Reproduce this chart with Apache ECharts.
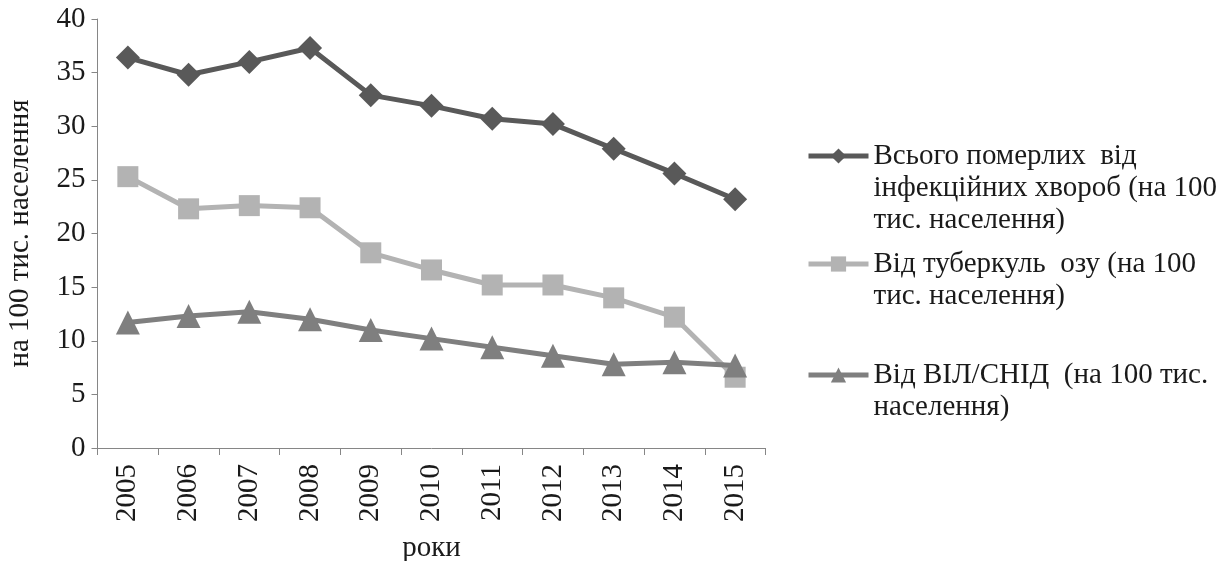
<!DOCTYPE html>
<html>
<head>
<meta charset="utf-8">
<script src="https://cdn.jsdelivr.net/npm/echarts@6/dist/echarts.min.js"></script>
<style>
  html, body { margin: 0; padding: 0; background: #ffffff; }
  #chart { width: 1232px; height: 561px; }
</style>
</head>
<body>
<div id="chart"></div>
<script>
// Роки спостереження
const years = ['2005', '2006', '2007', '2008', '2009', '2010', '2011', '2012', '2013', '2014', '2015'];

// Смертність на 100 тис. населення
const totalInfectious = [36.4, 34.8, 36.0, 37.3, 32.9, 31.9, 30.7, 30.2, 27.9, 25.6, 23.2];
const tuberculosis    = [25.3, 22.3, 22.6, 22.4, 18.2, 16.6, 15.2, 15.2, 14.0, 12.2, 6.6];
const hivAids         = [11.7, 12.3, 12.7, 12.0, 11.0, 10.2, 9.4, 8.6, 7.8, 8.0, 7.7];

const yTicks = { min: 0, max: 40, step: 5 };

const seriesNames = [
  'Всього померлих  від інфекційних хвороб (на 100 тис. населення)',
  'Від туберкуль  озу (на 100 тис. населення)',
  'Від ВІЛ/СНІД  (на 100 тис. населення)'
];
const legendLines = [
  ['Всього померлих  від', 'інфекційних хвороб (на 100', 'тис. населення)'],
  ['Від туберкуль  озу (на 100', 'тис. населення)'],
  ['Від ВІЛ/СНІД  (на 100 тис.', 'населення)']
];

const FONT = '"Liberation Serif", "Times New Roman", serif';
const FONT_SIZE = 29;
const LINE_H = 32;
const colors = ['#595959', '#b3b3b3', '#7f7f7f'];
const symbols = ['diamond', 'rect', 'triangle'];
const symbolSizes = [24, 21, 24];
const legendTops = [76, 216, 327];

function makeLegend(i) {
  const lines = legendLines[i];
  // blank lines on top keep the icon level with the first text line
  const pad = new Array(lines.length - 1).fill('');
  return {
    data: [seriesNames[i]],
    left: 806,
    top: legendTops[i],
    orient: 'vertical',
    padding: 0,
    itemWidth: 60,
    itemHeight: 19,
    selectedMode: false,
    lineStyle: { width: 5 },
    formatter: () => pad.concat(lines).join('\n'),
    textStyle: {
      fontFamily: FONT,
      fontSize: FONT_SIZE,
      color: '#1a1a1a',
      lineHeight: LINE_H
    }
  };
}

const chart = echarts.init(document.getElementById('chart'), null, { renderer: 'canvas' });

chart.setOption({
  backgroundColor: '#ffffff',
  animation: false,
  textStyle: { fontFamily: FONT },
  grid: {
    left: 97.5, top: 19, width: 668, height: 429,
    containLabel: false,
    outerBoundsMode: 'none'
  },
  legend: [0, 1, 2].map(makeLegend),
  xAxis: {
    type: 'category',
    data: years,
    boundaryGap: true,
    name: 'роки',
    nameLocation: 'middle',
    nameGap: 86,
    nameTextStyle: { fontFamily: FONT, fontSize: FONT_SIZE, color: '#1a1a1a' },
    axisLine: { show: true, lineStyle: { color: '#868686', width: 1 } },
    axisTick: { show: true, length: 7, lineStyle: { color: '#868686' } },
    axisLabel: {
      rotate: 90,
      margin: 16,
      fontFamily: FONT,
      fontSize: FONT_SIZE,
      color: '#1a1a1a',
      interval: 0
    }
  },
  yAxis: {
    type: 'value',
    min: yTicks.min,
    max: yTicks.max,
    interval: yTicks.step,
    name: 'на 100 тис. населення',
    nameLocation: 'middle',
    nameGap: 63,
    nameRotate: 90,
    nameTextStyle: { fontFamily: FONT, fontSize: FONT_SIZE, color: '#1a1a1a' },
    splitLine: { show: false },
    axisLine: { show: true, lineStyle: { color: '#868686', width: 1 } },
    axisTick: { show: true, length: 6, lineStyle: { color: '#868686' } },
    axisLabel: {
      margin: 12,
      fontFamily: FONT,
      fontSize: FONT_SIZE,
      color: '#1a1a1a'
    }
  },
  series: [totalInfectious, tuberculosis, hivAids].map((values, i) => ({
    name: seriesNames[i],
    type: 'line',
    data: values,
    symbol: symbols[i],
    symbolSize: symbolSizes[i],
    showAllSymbol: true,
    lineStyle: { color: colors[i], width: 5 },
    itemStyle: { color: colors[i] },
    z: 2 + i
  }))
});
</script>
</body>
</html>
